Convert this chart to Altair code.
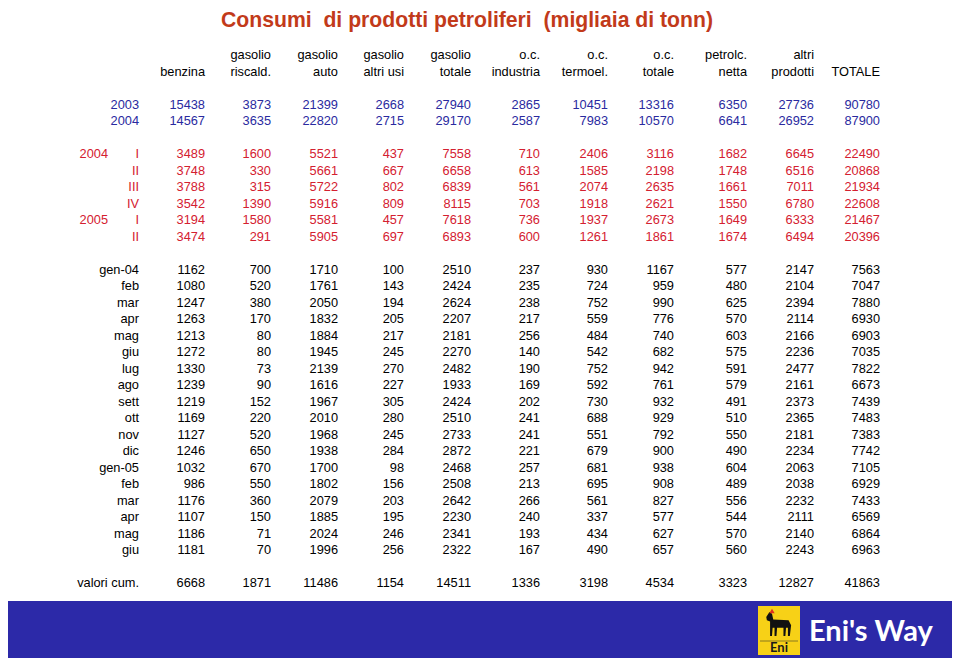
import altair as alt
import pandas as pd

NB = "\u00a0"
TITLE = "Consumi " + NB + "di prodotti petroliferi " + NB + "(migliaia di tonn)"

head1 = ["", "gasolio", "gasolio", "gasolio", "gasolio", "o.c.", "o.c.", "o.c.", "petrolc.", "altri", ""]
head2 = ["benzina", "riscald.", "auto", "altri usi", "totale", "industria", "termoel.", "totale", "netta", "prodotti", "TOTALE"]

years = ["2003", "2004"]
year_vals = [
    [15438, 3873, 21399, 2668, 27940, 2865, 10451, 13316, 6350, 27736, 90780],
    [14567, 3635, 22820, 2715, 29170, 2587, 7983, 10570, 6641, 26952, 87900],
]

q_years = ["2004", "", "", "", "2005", ""]
q_labels = ["I", "II", "III", "IV", "I", "II"]
q_vals = [
    [3489, 1600, 5521, 437, 7558, 710, 2406, 3116, 1682, 6645, 22490],
    [3748, 330, 5661, 667, 6658, 613, 1585, 2198, 1748, 6516, 20868],
    [3788, 315, 5722, 802, 6839, 561, 2074, 2635, 1661, 7011, 21934],
    [3542, 1390, 5916, 809, 8115, 703, 1918, 2621, 1550, 6780, 22608],
    [3194, 1580, 5581, 457, 7618, 736, 1937, 2673, 1649, 6333, 21467],
    [3474, 291, 5905, 697, 6893, 600, 1261, 1861, 1674, 6494, 20396],
]

months = ["gen-04", "feb", "mar", "apr", "mag", "giu", "lug", "ago", "sett", "ott",
          "nov", "dic", "gen-05", "feb", "mar", "apr", "mag", "giu"]
m_vals = [
    [1162, 700, 1710, 100, 2510, 237, 930, 1167, 577, 2147, 7563],
    [1080, 520, 1761, 143, 2424, 235, 724, 959, 480, 2104, 7047],
    [1247, 380, 2050, 194, 2624, 238, 752, 990, 625, 2394, 7880],
    [1263, 170, 1832, 205, 2207, 217, 559, 776, 570, 2114, 6930],
    [1213, 80, 1884, 217, 2181, 256, 484, 740, 603, 2166, 6903],
    [1272, 80, 1945, 245, 2270, 140, 542, 682, 575, 2236, 7035],
    [1330, 73, 2139, 270, 2482, 190, 752, 942, 591, 2477, 7822],
    [1239, 90, 1616, 227, 1933, 169, 592, 761, 579, 2161, 6673],
    [1219, 152, 1967, 305, 2424, 202, 730, 932, 491, 2373, 7439],
    [1169, 220, 2010, 280, 2510, 241, 688, 929, 510, 2365, 7483],
    [1127, 520, 1968, 245, 2733, 241, 551, 792, 550, 2181, 7383],
    [1246, 650, 1938, 284, 2872, 221, 679, 900, 490, 2234, 7742],
    [1032, 670, 1700, 98, 2468, 257, 681, 938, 604, 2063, 7105],
    [986, 550, 1802, 156, 2508, 213, 695, 908, 489, 2038, 6929],
    [1176, 360, 2079, 203, 2642, 266, 561, 827, 556, 2232, 7433],
    [1107, 150, 1885, 195, 2230, 240, 337, 577, 544, 2111, 6569],
    [1186, 71, 2024, 246, 2341, 193, 434, 627, 570, 2140, 6864],
    [1181, 70, 1996, 256, 2322, 167, 490, 657, 560, 2243, 6963],
]

cum_label = "valori cum."
cum_vals = [6668, 1871, 11486, 1154, 14511, 1336, 3198, 4534, 3323, 12827, 41863]

# ---- build the long table (row slot, column slot, text, group) ----
recs = []


def add(row, col, text, grp):
    if text != "":
        recs.append({"row": row, "col": col, "text": str(text), "grp": grp})


for i in range(11):
    add(0, i + 2, head1[i], "head")
    add(1, i + 2, head2[i], "head")
for j, yr in enumerate(years):
    add(3 + j, 1, yr, "year")
    for i, v in enumerate(year_vals[j]):
        add(3 + j, i + 2, v, "year")
for j in range(len(q_labels)):
    add(6 + j, 0, q_years[j], "quarter")
    add(6 + j, 1, q_labels[j], "quarter")
    for i, v in enumerate(q_vals[j]):
        add(6 + j, i + 2, v, "quarter")
for j, m in enumerate(months):
    add(13 + j, 1, m, "month")
    for i, v in enumerate(m_vals[j]):
        add(13 + j, i + 2, v, "month")
add(32, 1, cum_label, "month")
for i, v in enumerate(cum_vals):
    add(32, i + 2, v, "month")

df = pd.DataFrame(recs)

# column slots -> right edges (page px minus 8px margin)
col_domain = list(range(13))
col_edges = [108, 139, 205, 271, 338, 404, 471, 540, 608, 674, 747, 814, 880]
col_range = [e - 8 for e in col_edges]

W, H = 944, 650

table = alt.Chart(df).mark_text(
    align="right", baseline="middle", font="Liberation Sans", fontSize=12.8
).encode(
    x=alt.X("col:Q", scale=alt.Scale(domain=col_domain, range=col_range, zero=False, nice=False), axis=None),
    y=alt.Y("row:Q", scale=alt.Scale(domain=[0, 32], range=[55 - 8, 583 - 8], zero=False, nice=False), axis=None),
    text="text:N",
    color=alt.Color("grp:N", scale=alt.Scale(domain=["head", "year", "quarter", "month"],
                                             range=["#000000", "#2a2aa0", "#d42030", "#000000"]), legend=None),
)

title = alt.Chart(pd.DataFrame({"t": [TITLE]})).mark_text(
    font="Liberation Sans", fontSize=21.2, fontWeight="bold", color="#c23a1a", align="center", baseline="middle"
).encode(x=alt.value(467 - 8), y=alt.value(13), text="t:N")

band = alt.Chart(pd.DataFrame({"a": [0]})).mark_rect(color="#2c29a8").encode(
    x=alt.value(0), x2=alt.value(W), y=alt.value(601 - 8), y2=alt.value(H)
)

logo_box = alt.Chart(pd.DataFrame({"a": [0]})).mark_rect(color="#f7d117").encode(
    x=alt.value(758 - 8), x2=alt.value(800 - 8), y=alt.value(606 - 8), y2=alt.value(655 - 8)
)

logo_line = alt.Chart(pd.DataFrame({"a": [0]})).mark_rule(color="#8a7a20", strokeWidth=1).encode(
    x=alt.value(760 - 8), x2=alt.value(798 - 8), y=alt.value(641 - 8)
)

dog_path = ("M -1 -0.55 L -0.75 -0.95 L -0.55 -0.8 L -0.45 -0.35 L 0.75 -0.3 L 0.95 0.1 "
            "L 0.85 0.95 L 0.7 0.95 L 0.7 0.3 L 0.55 0.3 L 0.5 0.95 L 0.35 0.95 L 0.35 0.3 "
            "L -0.15 0.3 L -0.2 0.95 L -0.35 0.95 L -0.35 0.3 L -0.5 0.3 L -0.55 0.95 L -0.7 0.95 "
            "L -0.7 -0.2 L -0.95 -0.3 Z")
dog = alt.Chart(pd.DataFrame({"a": [0]})).mark_point(
    shape=dog_path, filled=True, color="#111111", size=650, opacity=1
).encode(x=alt.value(779 - 8), y=alt.value(624 - 8))

flame = alt.Chart(pd.DataFrame({"a": [0]})).mark_point(
    shape="triangle-up", filled=True, color="#e03020", size=28, opacity=1
).encode(x=alt.value(772 - 8), y=alt.value(611 - 8))

eni_small = alt.Chart(pd.DataFrame({"t": ["Eni"]})).mark_text(
    font="Lato", fontSize=13, fontWeight="bold", color="#1a1a1a", align="center", baseline="middle"
).encode(x=alt.value(779 - 8), y=alt.value(648 - 8), text="t:N")

eni_way = alt.Chart(pd.DataFrame({"t": ["Eni's Way"]})).mark_text(
    font="Lato", fontSize=29, fontWeight="bold", color="#ffffff", align="left", baseline="middle"
).encode(x=alt.value(809 - 8), y=alt.value(632 - 8), text="t:N")

chart = alt.layer(band, logo_box, logo_line, dog, flame, eni_small, eni_way, title, table).properties(
    width=W, height=H, autosize=alt.AutoSizeParams(type="none"), padding=0
).configure_view(strokeWidth=0)

chart.save("out.html", embed_options={"renderer": "svg", "actions": False})
